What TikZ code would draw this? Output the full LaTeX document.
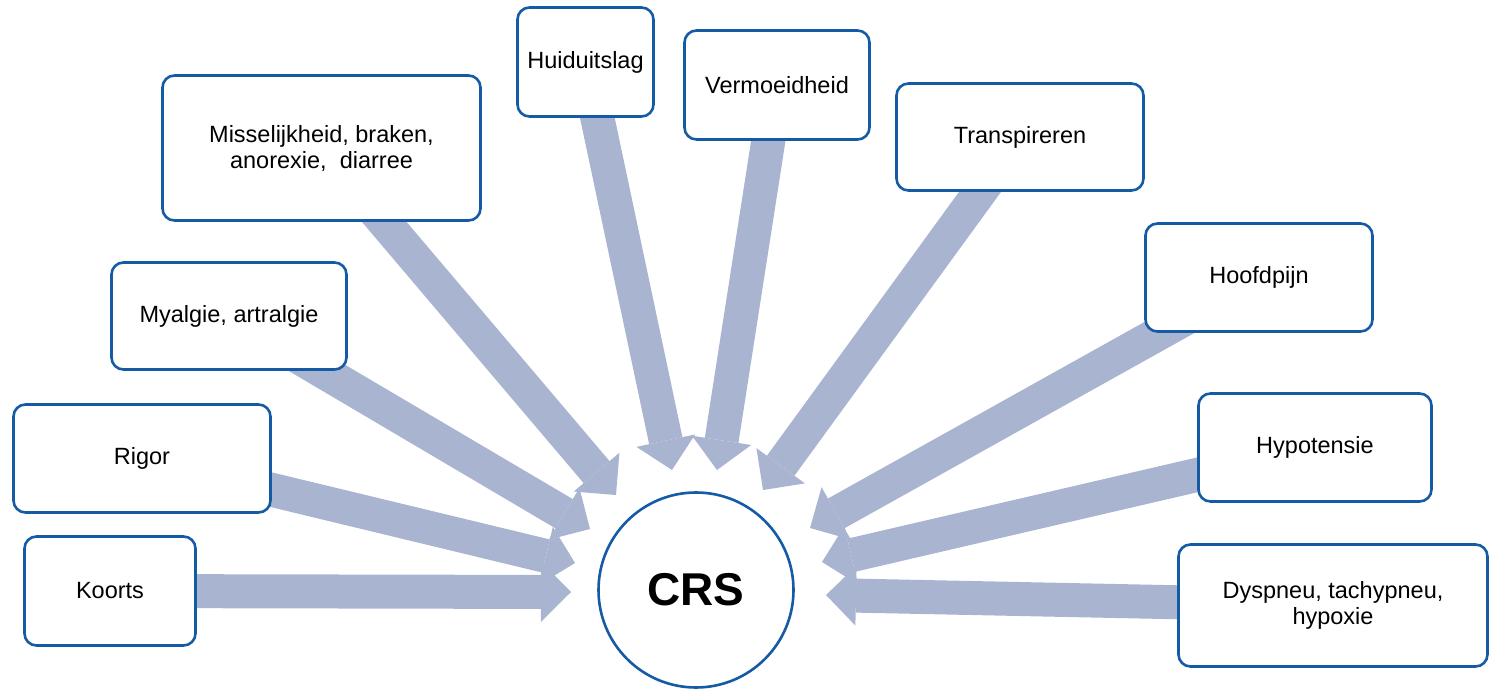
\documentclass[tikz,border=0pt]{standalone}
\usepackage{fontspec}
\setmainfont{Liberation Sans}
\usetikzlibrary{arrows.meta,backgrounds}
\definecolor{randblauw}{RGB}{20,90,165}
\definecolor{pijlblauw}{RGB}{169,180,209}
\begin{document}
\begin{tikzpicture}[x=1pt,y=-1pt]
	\tikzstyle{box}=[rectangle, rounded corners=12pt, draw=randblauw, line width=2.6pt, fill=white, inner sep=0pt, align=center, font=\fontsize{23.5}{26}\selectfont]
	\tikzstyle{pijl}=[pijlblauw, line width=34pt, -{Triangle[length=30pt,width=60pt,line width=0pt]}]
	\useasboundingbox (0,0) rectangle (1489,690);
	% Center
	\node at (696,590) [circle, draw=randblauw, line width=2.6pt, fill=white, minimum size=195pt, font=\bfseries\fontsize{46}{50}\selectfont] (crs) {CRS};
	% Left
	\node at (110,591) [box, minimum width=171pt, minimum height=109pt] (symptom_1) {Koorts};
	\node at (142,458.5) [box, minimum width=257pt, minimum height=108pt] (symptom_2) {Rigor};
	\node at (229,316) [box, minimum width=235pt, minimum height=107pt] (symptom_3) {Myalgie, artralgie};
	\node at (321.5,148) [box, minimum width=318pt, minimum height=145pt] (symptom_4) {Misselijkheid, braken,\\anorexie,~ diarree};
	% Top
	\node at (585.5,62) [box, minimum width=136pt, minimum height=109pt] (symptom_5) {Huiduitslag};
	\node at (777,85) [box, minimum width=185pt, minimum height=109pt] (symptom_6) {Vermoeidheid};
	% Right
	\node at (1020,137) [box, minimum width=247pt, minimum height=107pt] (symptom_7) {Transpireren};
	\node at (1259,277.5) [box, minimum width=227pt, minimum height=108pt] (symptom_8) {Hoofdpijn};
	\node at (1315,447.5) [box, minimum width=233pt, minimum height=108pt] (symptom_9) {Hypotensie};
	\node at (1333,605.5) [box, minimum width=309pt, minimum height=122pt] (symptom_10) {Dyspneu, tachypneu,\\hypoxie};
	%---------------------%
	% Arrow tips
	\foreach \x/\y [count=\i] in {571/592, 575/563, 590/529, 616/495, 672/470, 717/470, 763/490, 810/528, 822/562, 826/595}
		\coordinate (tip_\i) at (\x,\y);
	% Symptoms -> CRS
	\begin{pgfonlayer}{background}
	\foreach \i in {1,...,10}
		\draw [pijl] (symptom_\i.center) to (tip_\i);
	\end{pgfonlayer}
	%---------------------%
\end{tikzpicture}
\end{document}
